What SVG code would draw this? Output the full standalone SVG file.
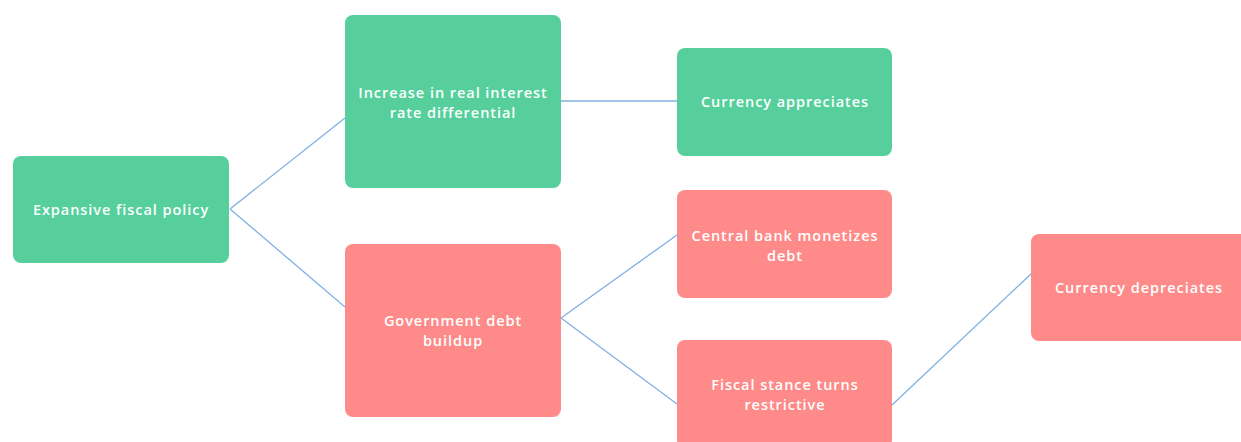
<svg xmlns="http://www.w3.org/2000/svg" width="1241" height="442" viewBox="0 0 1241 442">
  <style>
    .box { stroke: none; }
    .pos { fill: #56cf9c; }
    .neg { fill: #ff8a8a; }
    .label { font-family: "Open Sans", "Liberation Sans", sans-serif; font-size: 14.5px; font-weight: 600; letter-spacing: 0.95px; fill: #fbfffd; text-anchor: middle; dominant-baseline: central; }
    .edge { fill: none; stroke: #7fb1e3; stroke-width: 1.3; }
  </style>
  <rect width="1241" height="442" fill="#ffffff"/>

  <g id="connectors">
    <line class="edge" x1="230" y1="209" x2="345" y2="118"/>
    <line class="edge" x1="230" y1="209" x2="345" y2="307"/>
    <line class="edge" x1="561" y1="101" x2="677" y2="101"/>
    <line class="edge" x1="561" y1="318" x2="677" y2="235"/>
    <line class="edge" x1="561" y1="318" x2="677" y2="404"/>
    <line class="edge" x1="892" y1="405" x2="1032" y2="273"/>
  </g>

  <g id="node-expansive-fiscal-policy">
    <rect class="box pos" x="13" y="156" width="216" height="107" rx="8"/>
    <text class="label" x="121" y="209">Expansive fiscal policy</text>
  </g>

  <g id="node-interest-rate-differential">
    <rect class="box pos" x="345" y="15" width="216" height="173" rx="8"/>
    <text class="label" x="453" y="92">Increase in real interest</text>
    <text class="label" x="453" y="112">rate differential</text>
  </g>

  <g id="node-currency-appreciates">
    <rect class="box pos" x="677" y="48" width="215" height="108" rx="8"/>
    <text class="label" x="785" y="101">Currency appreciates</text>
  </g>

  <g id="node-government-debt">
    <rect class="box neg" x="345" y="244" width="216" height="173" rx="8"/>
    <text class="label" x="453" y="320">Government debt</text>
    <text class="label" x="453" y="340">buildup</text>
  </g>

  <g id="node-central-bank-monetizes">
    <rect class="box neg" x="677" y="190" width="215" height="108" rx="8"/>
    <text class="label" x="785" y="235">Central bank monetizes</text>
    <text class="label" x="785" y="255">debt</text>
  </g>

  <g id="node-fiscal-stance">
    <rect class="box neg" x="677" y="340" width="215" height="108" rx="8"/>
    <text class="label" x="785" y="384">Fiscal stance turns</text>
    <text class="label" x="785" y="404">restrictive</text>
  </g>

  <g id="node-currency-depreciates">
    <rect class="box neg" x="1031" y="234" width="220" height="107" rx="8"/>
    <text class="label" x="1139" y="287">Currency depreciates</text>
  </g>
</svg>
